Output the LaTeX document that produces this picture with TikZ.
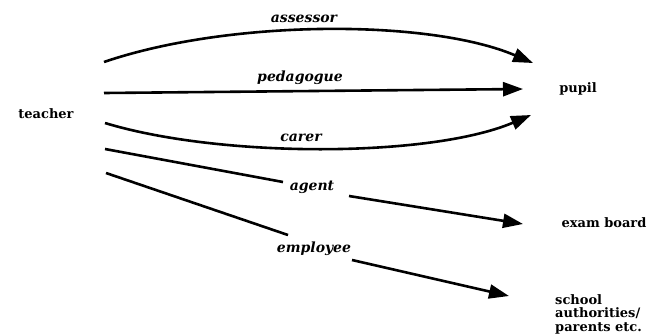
\documentclass[tikz,border=0pt]{standalone}
\usepackage{fontspec}
\setmainfont{DejaVu Serif}
\usetikzlibrary{arrows.meta}
\begin{document}
\begin{tikzpicture}[x=1pt,y=-1pt,
  role/.style={font=\fontsize{13}{15}\selectfont\bfseries},
  rlabel/.style={font=\fontsize{14}{16}\selectfont\bfseries\itshape,inner sep=1pt},
  link/.style={line width=2.6pt},
  arr/.style={line width=2.6pt,-{Triangle[length=20pt,width=14pt]}}]
\useasboundingbox (0,0) rectangle (652,335);
% end nodes
\node[role] (teacher) at (46,114) {teacher};
\node[role] (pupil) at (578,89) {pupil};
\node[role] (exam) at (604,223) {exam board};
\node[role,align=left,anchor=north west,inner sep=0pt,font=\fontsize{13}{13.5}\selectfont\bfseries] (school) at (555,294) {school\\authorities/\\parents etc.};
% labels
\node[rlabel] (lass) at (304,19) {assessor};
\node[rlabel] (lped) at (300,78) {pedagogue};
\node[rlabel] (lcar) at (301,138) {carer};
\node[rlabel] (lage) at (312,187) {agent};
\node[rlabel] (lemp) at (314,249) {employee};
% connector end points
\coordinate (s1) at (104,62);  \coordinate (t1) at (533,63);
\coordinate (s2) at (104,93);  \coordinate (t2) at (523,89);
\coordinate (s3) at (105,123); \coordinate (t3) at (531,115);
\coordinate (s4) at (105,149); \coordinate (a4) at (283,182);
\coordinate (b4) at (349,196); \coordinate (t4) at (523,224);
\coordinate (s5) at (106,173); \coordinate (a5) at (288,235);
\coordinate (b5) at (352,260); \coordinate (t5) at (509,296);
% connectors
\draw[arr] (s1) .. controls (230,19) and (430,19) .. (t1);
\draw[arr] (s2) -- (t2);
\draw[arr] (s3) .. controls (220,158) and (430,158) .. (t3);
\draw[link] (s4) -- (a4);
\draw[arr] (b4) -- (t4);
\draw[link] (s5) -- (a5);
\draw[arr] (b5) -- (t5);
\end{tikzpicture}
\end{document}
